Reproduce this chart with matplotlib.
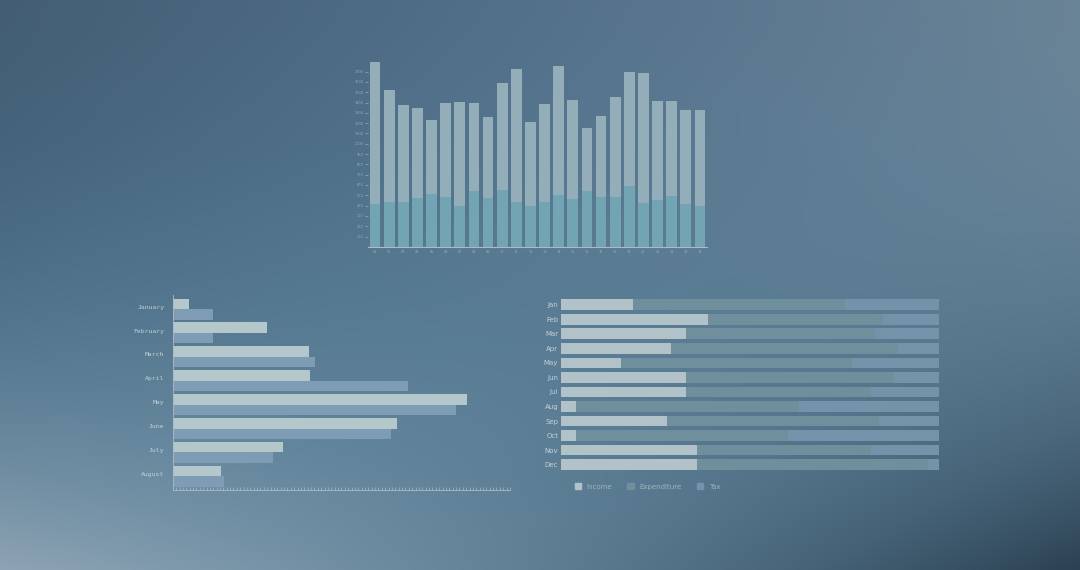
import numpy as np
import matplotlib
matplotlib.use("Agg")
import matplotlib.pyplot as plt
from matplotlib.patches import Patch

# top chart: 24 periods, total height and lower (teal) part
period_labels = ["01", "02", "03", "04", "05", "06", "07", "08", "09", "10", "11", "12",
                 "13", "14", "15", "16", "17", "18", "19", "20", "21", "22", "23", "24"]
period_total = [1796, 1521, 1373, 1344, 1230, 1398, 1408, 1392, 1256, 1589, 1722, 1211,
                1382, 1757, 1421, 1149, 1272, 1456, 1696, 1689, 1414, 1414, 1324, 1327]
period_base = [412, 437, 437, 476, 508, 485, 392, 538, 470, 547, 431, 392,
               431, 502, 466, 538, 482, 485, 589, 427, 453, 492, 414, 395]
top_yticks = [100, 200, 300, 400, 500, 600, 700, 800, 900, 1000, 1100, 1200,
              1300, 1400, 1500, 1600, 1700]

# bottom left: grouped horizontal bars
months_long = ["January", "February", "March", "April", "May", "June", "July", "August"]
series_a = [4.7, 28.0, 40.5, 40.8, 87.2, 66.4, 32.8, 14.4]
series_b = [11.9, 11.9, 42.3, 69.8, 83.9, 64.6, 29.7, 15.1]

# bottom right: stacked 100% bars
months_short = ["Jan", "Feb", "Mar", "Apr", "May", "Jun", "Jul", "Aug", "Sep", "Oct", "Nov", "Dec"]
income = [19, 39, 33, 29, 16, 33, 33, 4, 28, 4, 36, 36]
expenditure = [56, 46, 50, 60, 61, 55, 49, 59, 56, 56, 46, 61]
tax = [25, 15, 17, 11, 23, 12, 18, 37, 16, 40, 18, 3]

fig = plt.figure(figsize=(10.8, 5.7), dpi=100)

# background: colours on a 3x3 grid (top/middle/bottom x left/centre/right),
# blended with a smooth quadratic patch so there are no visible seams
def hexrgb(h):
    return np.array([int(h[i:i + 2], 16) / 255 for i in (1, 3, 5)])

grid = np.array([[hexrgb("#435e74"), hexrgb("#54718a"), hexrgb("#6a8396")],
                 [hexrgb("#577990"), hexrgb("#5a7d95"), hexrgb("#567489")],
                 [hexrgb("#8ea3b3"), hexrgb("#5f7e93"), hexrgb("#2c4152")]])

def quad(p0, p1, p2, t):
    c = 2 * p1 - (p0 + p2) / 2  # control point so the curve passes through p1 at t=0.5
    return (1 - t) ** 2 * p0 + 2 * t * (1 - t) * c + t ** 2 * p2

ny, nx = 228, 432
tx = np.linspace(0, 1, nx)[None, :, None]
ty = (np.linspace(0, 1, ny) ** 1.4)[:, None, None]
rows = [quad(grid[j, 0], grid[j, 1], grid[j, 2], tx) for j in range(3)]
img = quad(rows[0], rows[1], rows[2], ty)
bg = fig.add_axes([0, 0, 1, 1])
bg.imshow(np.clip(img, 0, 1), aspect="auto", interpolation="bilinear", extent=[0, 1, 0, 1])
bg.set_axis_off()

axis_col = "#a9bcc6"
txt_col = "#c3d0d6"

# ---- top chart
ax1 = fig.add_axes([0.3407, 0.567, 0.3139, 0.3255])
ax1.patch.set_alpha(0)
x = np.arange(len(period_total))
upper = np.array(period_total) - np.array(period_base)
ax1.bar(x, period_base, width=0.76, color="#72a4b3")
ax1.bar(x, upper, bottom=period_base, width=0.76, color="#94aeb9")
ax1.set_xlim(-0.5, len(x) - 0.5)
ax1.set_ylim(0, 1800)
ax1.set_xticks(x)
ax1.set_xticklabels(period_labels, fontsize=2.5, color=txt_col, alpha=0.6)
ax1.set_yticks(top_yticks)
ax1.set_yticklabels([str(t) for t in top_yticks], fontsize=2.5, color=txt_col, alpha=0.6)
ax1.tick_params(axis="x", length=0, pad=2)
ax1.tick_params(axis="y", length=2, width=0.4, color=axis_col, pad=1)
for s in ["top", "right", "left"]:
    ax1.spines[s].set_visible(False)
ax1.spines["bottom"].set_color(axis_col)
ax1.spines["bottom"].set_linewidth(0.8)

# ---- bottom left chart
ax2 = fig.add_axes([0.16, 0.1404, 0.3122, 0.3421])
ax2.patch.set_alpha(0)
y = np.arange(len(months_long))
ax2.barh(y - 0.22, series_a, height=0.44, color="#b4c7cb")
ax2.barh(y + 0.22, series_b, height=0.44, color="#7e9db5")
ax2.set_xlim(0, 100)
ax2.set_ylim(7.57, -0.59)
ax2.set_yticks(y - 0.1)
ax2.set_yticklabels(months_long, fontsize=4.6, family="DejaVu Sans Mono", color=txt_col)
ax2.tick_params(axis="y", length=0, pad=6)
ax2.set_xticks(np.arange(0, 101, 1), minor=True)
ax2.set_xticks([])
ax2.tick_params(axis="x", which="minor", length=2, width=0.5, color=axis_col, direction="in")
ax2.tick_params(axis="x", labelbottom=False)
for s in ["top", "right"]:
    ax2.spines[s].set_visible(False)
ax2.spines["left"].set_color(axis_col)
ax2.spines["left"].set_linewidth(0.6)
ax2.spines["bottom"].set_color(axis_col)
ax2.spines["bottom"].set_linewidth(0.6)

# ---- bottom right chart
ax3 = fig.add_axes([0.5194, 0.1721, 0.3503, 0.3061])
ax3.patch.set_alpha(0)
r = np.arange(len(months_short))
inc = np.array(income)
exp_ = np.array(expenditure)
ax3.barh(r, inc, height=0.735, color="#b2c2c9", label="Income")
ax3.barh(r, exp_, left=inc, height=0.735, color="#6f8f9c", label="Expenditure")
ax3.barh(r, tax, left=inc + exp_, height=0.735, color="#7393aa", label="Tax")
ax3.set_xlim(0, 100)
ax3.set_ylim(11.5, -0.5)
ax3.set_yticks(r)
ax3.set_yticklabels(months_short, fontsize=5, family=["Liberation Sans Narrow", "DejaVu Sans"],
                    color=txt_col)
ax3.tick_params(axis="y", length=0, pad=2)
ax3.set_xticks([])
for s in ax3.spines.values():
    s.set_visible(False)
handles = [Patch(color="#b2c2c9", label="Income"),
           Patch(color="#6f8f9c", label="Expenditure"),
           Patch(color="#7393aa", label="Tax")]
leg = ax3.legend(handles=handles, loc="upper left", bbox_to_anchor=(0.02, -0.03), ncol=3,
                 frameon=False, fontsize=5, handlelength=0.9, handleheight=0.9,
                 handletextpad=0.8, columnspacing=2.2)
for t in leg.get_texts():
    t.set_color("#9fb3bf")
    t.set_family(["Liberation Sans Narrow", "DejaVu Sans"])

fig.savefig("out.png", dpi=100)
